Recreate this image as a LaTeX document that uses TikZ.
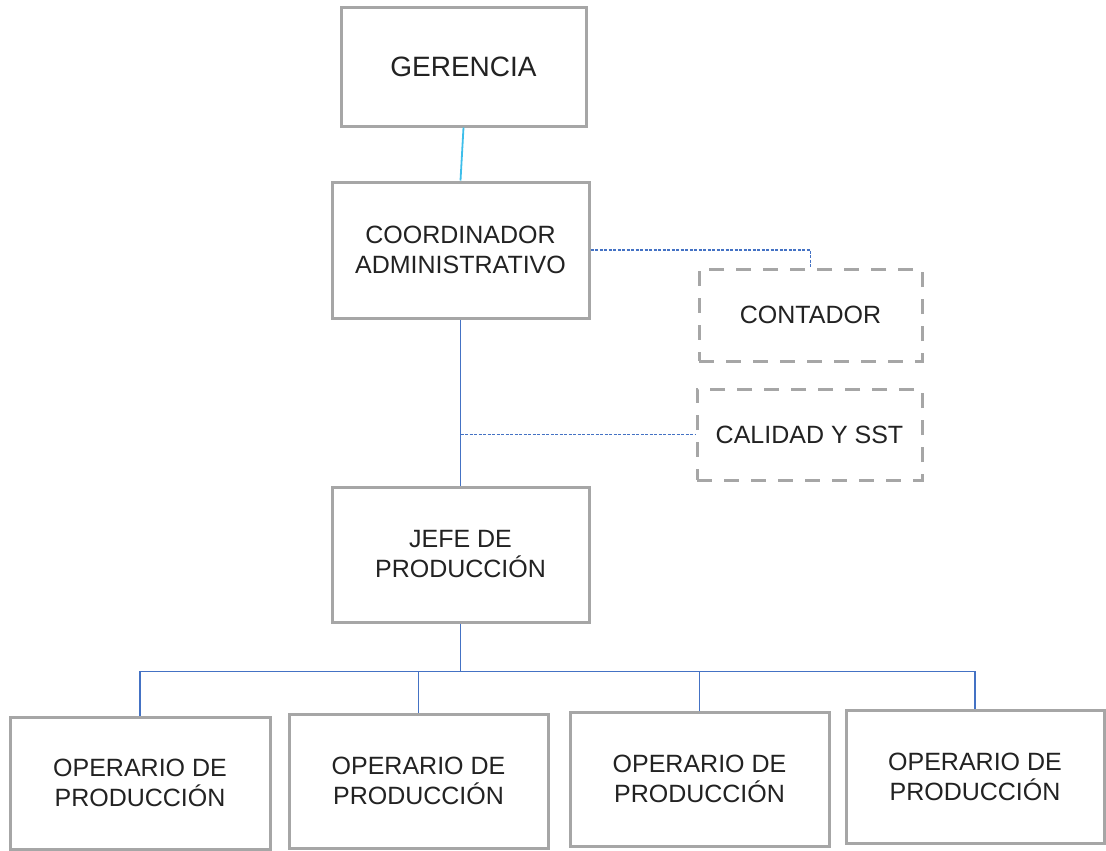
\documentclass[tikz,border=0pt]{standalone}
\usepackage{fontspec}
\setmainfont{Liberation Sans}
\definecolor{boxgray}{HTML}{A6A6A6}
\definecolor{linkblue}{HTML}{4472C4}
\definecolor{linkcyan}{HTML}{3DBEEA}
\definecolor{txt}{HTML}{222222}
\begin{document}
\begin{tikzpicture}[x=1pt,y=-1pt,
  orgbox/.style={draw=boxgray,line width=3pt,fill=white,minimum width=#1,align=center,
     text=txt,font=\fontsize{25}{30}\selectfont,inner sep=0pt},
  dashbox/.style={orgbox=#1,dash pattern=on 15pt off 12pt},
  link/.style={draw=linkblue,line width=1.5pt},
  dotlink/.style={draw=linkblue,line width=1.3pt,dash pattern=on 3pt off 1.5pt}]
\useasboundingbox (0,0) rectangle (1106,851);
\node[orgbox=245pt,minimum height=118pt,font=\fontsize{28}{32}\selectfont] (ger) at (463.5,67) {GERENCIA};
\node[orgbox=257pt,minimum height=136pt] (coord) at (460.5,250) {COORDINADOR\\ADMINISTRATIVO};
\node[dashbox=223pt,minimum height=92pt] (cont) at (810.5,315) {CONTADOR};
\node[dashbox=225pt,minimum height=91pt] (cal) at (809.5,434.5) {CALIDAD Y SST};
\node[orgbox=257pt,minimum height=135pt] (jefe) at (460.5,554.5) {JEFE DE\\PRODUCCIÓN};
\node[orgbox=260pt,minimum height=132pt] (op1) at (140,783) {OPERARIO DE\\PRODUCCIÓN};
\node[orgbox=259pt,minimum height=134pt] (op2) at (418.5,781) {OPERARIO DE\\PRODUCCIÓN};
\node[orgbox=259pt,minimum height=134pt] (op3) at (699.5,779) {OPERARIO DE\\PRODUCCIÓN};
\node[orgbox=258pt,minimum height=133pt] (op4) at (975,776.5) {OPERARIO DE\\PRODUCCIÓN};
\draw[draw=linkcyan,line width=1.8pt] (ger.south) -- (coord.north);
\draw[dotlink] (coord.east) -| (cont.north);
\draw[link] (coord.south) -- (jefe.north);
\coordinate (tee) at (coord.south |- cal.west);
\draw[dotlink] (tee) -- (cal.west);
\draw[link] (jefe.south) -- ++(0,48) coordinate (bus);
\draw[link] (bus) -| (op1.north);
\draw[link] (bus) -| (op2.north);
\draw[link] (bus) -| (op3.north);
\draw[link] (bus) -| (op4.north);
\end{tikzpicture}
\end{document}
